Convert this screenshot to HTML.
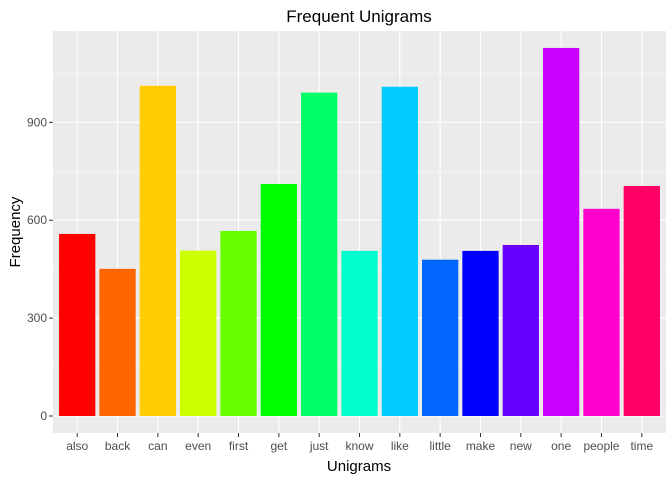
<!DOCTYPE html>
<html><head><meta charset="utf-8"><style>
body{margin:0;background:#fff;font-family:"Liberation Sans",Arial,sans-serif;}
</style></head><body>
<svg id="chart" width="672" height="480" xmlns="http://www.w3.org/2000/svg">
<rect x="53" y="31" width="613" height="402" fill="#ebebeb"/>
<g id="grid"></g><g id="bars"></g><g id="axes"></g>
<text x="359" y="22" text-anchor="middle" font-size="17" fill="#000">Frequent Unigrams</text>
<text x="359" y="471" text-anchor="middle" font-size="15" fill="#000">Unigrams</text>
<text transform="translate(20,232) rotate(-90)" text-anchor="middle" font-size="15" fill="#000">Frequency</text>
</svg>
<script>
const categories=["also","back","can","even","first","get","just","know","like","little","make","new","one","people","time"];
const values=[558,451,1012,507,567,711,991,506,1009,479,506,524,1128,635,705];
const colors=["#FF0000","#FF6600","#FFCC00","#CCFF00","#66FF00","#00FF00","#00FF66","#00FFCC","#00CCFF","#0066FF","#0000FF","#6600FF","#CC00FF","#FF00CC","#FF0066"];
const yTicks=[0,300,600,900];
const yMinor=[150,450,750,1050];
const NS="http://www.w3.org/2000/svg";
const panelLeft=53,panelRight=666,panelTop=31,panelBottom=433;
const step=(panelRight-panelLeft)/(categories.length+0.2);
function xPos(i){return panelLeft+(i+0.6)*step;}
function yPos(v){return 416-v*0.3263;}
function mk(t,a,p){const e=document.createElementNS(NS,t);for(const k in a)e.setAttribute(k,a[k]);p.appendChild(e);return e;}
const grid=document.getElementById('grid'),bars=document.getElementById('bars'),axes=document.getElementById('axes');
yMinor.forEach(v=>{const l=mk('line',{x1:panelLeft,x2:panelRight,y1:yPos(v),y2:yPos(v),stroke:'#fff','stroke-width':0.5},grid);

});
yTicks.forEach(v=>{const l=mk('line',{x1:panelLeft,x2:panelRight,y1:yPos(v),y2:yPos(v),stroke:'#fff','stroke-width':1.1},grid);


const t=mk('line',{x1:panelLeft-4,x2:panelLeft,y1:yPos(v),y2:yPos(v),stroke:'#333','stroke-width':1},axes);


const tx=mk('text',{x:panelLeft-6,y:yPos(v)+4,'text-anchor':'end','font-size':12,fill:'#4d4d4d'},axes);tx.textContent=v;

});
categories.forEach((c,i)=>{const l=mk('line',{x1:xPos(i),x2:xPos(i),y1:panelTop,y2:panelBottom,stroke:'#fff','stroke-width':1.1},grid);


const w=step*0.9;
const b=mk('rect',{x:xPos(i)-w/2,y:yPos(values[i]),width:w,height:yPos(0)-yPos(values[i]),fill:colors[i]},bars);


const t=mk('line',{x1:xPos(i),x2:xPos(i),y1:panelBottom,y2:panelBottom+4,stroke:'#333','stroke-width':1},axes);


const tx=mk('text',{x:xPos(i),y:panelBottom+17,'text-anchor':'middle','font-size':12,fill:'#4d4d4d'},axes);tx.textContent=c;

});
</script>
</body></html>
